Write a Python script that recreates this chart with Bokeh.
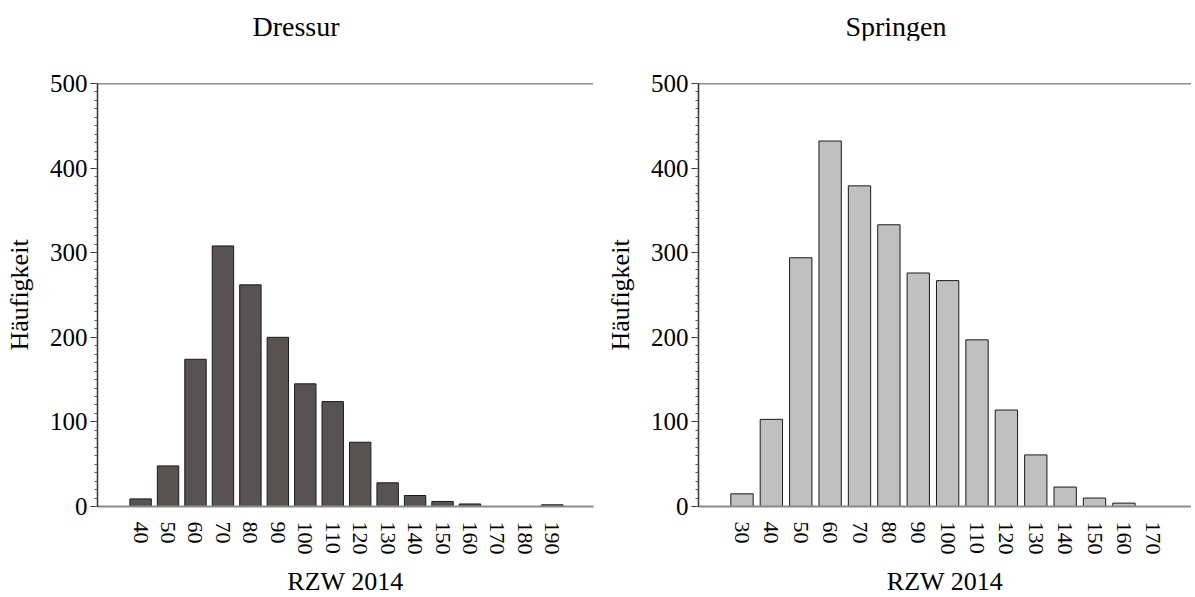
import math
from bokeh.plotting import figure
from bokeh.layouts import row, column
from bokeh.models import Range1d, FixedTicker, SingleIntervalTicker, Span, Div
from bokeh.embed import file_html
from bokeh.resources import INLINE

# ---- data ----
dressur_rzw = [40, 50, 60, 70, 80, 90, 100, 110, 120, 130, 140, 150, 160, 170, 180, 190]
dressur_count = [9, 48, 174, 308, 262, 200, 145, 124, 76, 28, 13, 6, 3, 0, 0, 2]

springen_rzw = [30, 40, 50, 60, 70, 80, 90, 100, 110, 120, 130, 140, 150, 160, 170]
springen_count = [15, 103, 294, 432, 379, 333, 276, 267, 197, 114, 61, 23, 10, 4, 0]

y_ticks_max = 500
FONT = "Liberation Serif"
FRAME_H = 423
TITLE_H = 40
BORDER_TOP = 83 - TITLE_H
BORDER_LEFT = 97


def make_fig(title, xs, ys, color, x_start, x_end, frame_w, border_right,
             title_shift, bar_w):
    p = figure(frame_width=frame_w, frame_height=FRAME_H,
               x_range=Range1d(x_start, x_end), y_range=Range1d(0, y_ticks_max),
               output_backend="svg", toolbar_location=None, title=None,
               min_border_left=BORDER_LEFT, min_border_right=border_right,
               min_border_top=BORDER_TOP, min_border_bottom=0)
    p.vbar(x=xs, top=ys, width=bar_w, fill_color=color,
           line_color="#1a1a1a", line_width=1)
    p.outline_line_color = None
    p.xgrid.visible = False
    p.ygrid.visible = False
    p.background_fill_color = "white"
    p.border_fill_color = "white"

    p.add_layout(Span(location=y_ticks_max, dimension="width",
                      line_color="#1a1a1a", line_width=1.5))

    # x axis
    xa = p.xaxis[0]
    xa.ticker = FixedTicker(ticks=xs)
    xa.major_label_orientation = -math.pi / 2
    xa.major_label_text_font = FONT
    xa.major_label_text_font_size = "22px"
    xa.major_label_text_color = "black"
    xa.major_label_standoff = 9
    xa.major_tick_line_color = None
    xa.minor_tick_line_color = None
    xa.axis_line_color = "#8a8a8a"
    xa.axis_line_width = 2
    xa.axis_label = "RZW 2014"
    xa.axis_label_text_font = FONT
    xa.axis_label_text_font_size = "26px"
    xa.axis_label_text_font_style = "normal"
    xa.axis_label_text_color = "black"
    xa.axis_label_standoff = 9

    # y axis
    ya = p.yaxis[0]
    ya.ticker = SingleIntervalTicker(interval=100, num_minor_ticks=10)
    ya.major_label_text_font = FONT
    ya.major_label_text_font_size = "25px"
    ya.major_label_text_color = "black"
    ya.major_label_standoff = 3
    ya.major_tick_out = 7
    ya.major_tick_in = 0
    ya.minor_tick_out = 3
    ya.minor_tick_in = 0
    ya.major_tick_line_color = "#333333"
    ya.minor_tick_line_color = "#555555"
    ya.axis_line_color = "#333333"
    ya.axis_line_width = 1.5
    ya.axis_label = "Häufigkeit"
    ya.axis_label_text_font = FONT
    ya.axis_label_text_font_size = "26px"
    ya.axis_label_text_font_style = "normal"
    ya.axis_label_text_color = "black"
    ya.axis_label_standoff = 13

    fig_w = BORDER_LEFT + frame_w + border_right
    head = Div(text=title, width=fig_w, height=TITLE_H, margin=(0, 0, 0, 0),
               styles={"font-family": "'Liberation Serif'", "font-size": "28px",
                       "line-height": "28px", "color": "black",
                       "text-align": "center", "width": f"{fig_w}px",
                       "padding-top": "13px",
                       "padding-left": f"{max(title_shift, 0)}px",
                       "padding-right": f"{max(-title_shift, 0)}px",
                       "box-sizing": "border-box"})
    return column(head, p, spacing=0)


c1 = make_fig("Dressur", dressur_rzw, dressur_count, "#585253",
              24.3, 205, 496, 8, -9, 7.8)
c2 = make_fig("Springen", springen_rzw, springen_count, "#c0c0c0",
              15.2, 183, 493, 0, 0, 7.6)

layout = row(c1, c2, spacing=0)
open("out.html", "w").write(file_html(layout, INLINE))
